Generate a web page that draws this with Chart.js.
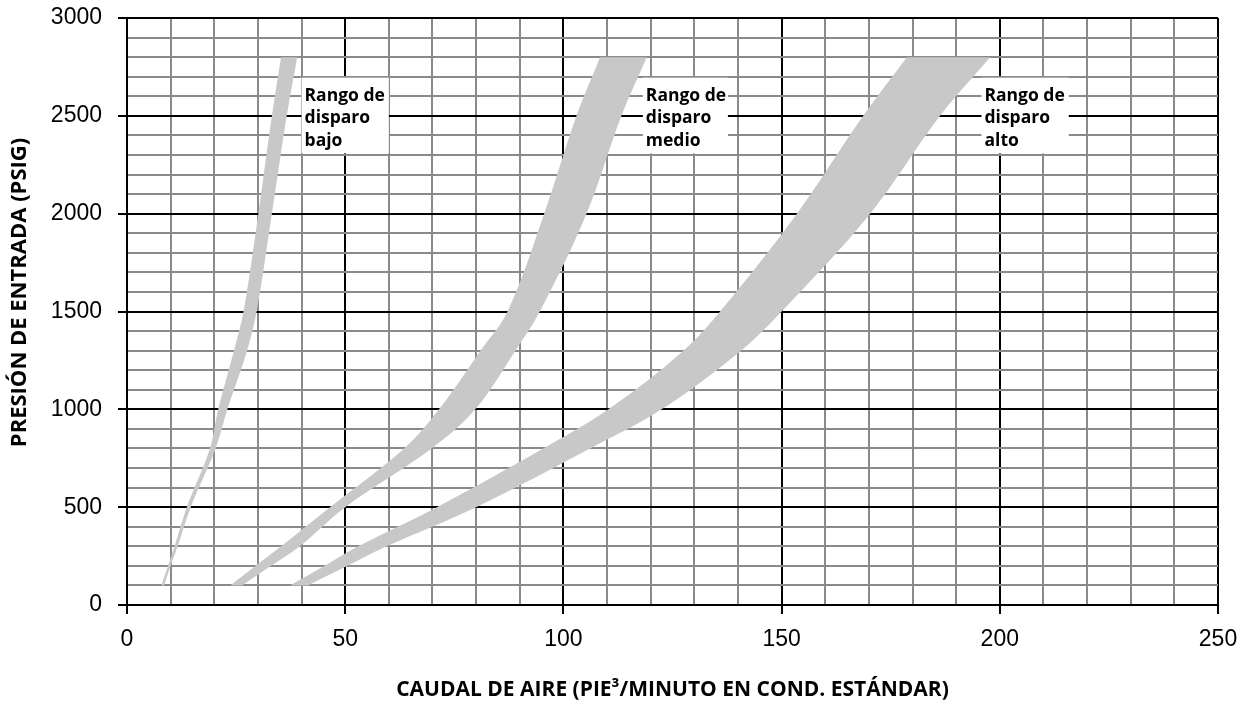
<!DOCTYPE html>
<html>
<head>
<meta charset="utf-8">
<script src="https://cdn.jsdelivr.net/npm/chart.js@4.4.0/dist/chart.umd.min.js"></script>
<style>
  html, body { margin: 0; padding: 0; background: #fff; }
</style>
</head>
<body>
<canvas id="graf" width="1256" height="707"></canvas>
<script>
  // presion de entrada (psig) de cada nivel
  const presion = [100, 200, 300, 500, 800, 1000, 1300, 1500, 2000, 2500, 2800];

  // caudal (pie3/min) en el borde izquierdo y derecho de cada rango
  const bajoIzq  = [7.9, 9.4, 10.9, 13.7, 19.0, 20.9, 24.5, 26.7, 30.1, 33.2, 35.3];
  const bajoDer  = [8.5, 10.0, 11.6, 14.6, 20.3, 23.0, 27.5, 29.7, 33.2, 36.6, 39.0];
  const medioIzq = [23.7, 29.5, 35.3, 46.5, 63.5, 71.5, 81.0, 87.2, 95.6, 103.0, 108.4];
  const medioDer = [26.4, 33.0, 39.6, 50.0, 69.8, 79.8, 89.0, 94.6, 105.3, 113.3, 119.1];
  const altoIzq  = [37.4, 45.3, 53.0, 71.0, 95.4, 110.3, 127.5, 135.9, 153.5, 168.7, 178.7];
  const altoDer  = [41.5, 50.5, 59.5, 80.0, 106.1, 122.5, 140.7, 150.0, 170.3, 186.3, 197.8];

  // etiquetas de los ejes
  const etiquetasX = [0, 50, 100, 150, 200, 250];
  const etiquetasY = [0, 500, 1000, 1500, 2000, 2500, 3000];
  const tituloX = 'CAUDAL DE AIRE (PIE\u00B3/MINUTO EN COND. EST\u00C1NDAR)';
  const tituloY = 'PRESI\u00D3N DE ENTRADA (PSIG)';

  const textosRango = [
    ['Rango de', 'disparo', 'bajo'],
    ['Rango de', 'disparo', 'medio'],
    ['Rango de', 'disparo', 'alto']
  ];

  /**======================================================================
   *   banda(izq, der) : contorno cerrado izquierda -> arriba -> derecha
   ======================================================================*/
  function banda(izq, der)
  {
      let pts = [];
      let n = presion.length;
      for (let i = 0; i < n; i++) pts.push({x: izq[i], y: presion[i]});
      // esquinas repetidas para que no se redondeen
      pts.push({x: izq[n-1], y: presion[n-1]});
      pts.push({x: der[n-1], y: presion[n-1]});
      for (let i = n - 1; i >= 0; i--) pts.push({x: der[i], y: presion[i]});
      pts.push({x: der[0], y: presion[0]});
      pts.push({x: izq[0], y: presion[0]});
      return pts;
  }

  function datasetBanda(izq, der)
  {
      return {
          data: banda(izq, der),
          fill: 'shape',
          backgroundColor: '#c8c8c8',
          borderColor: '#c8c8c8',
          borderWidth: 0,
          pointRadius: 0,
          tension: 0.35
      };
  }

  // cajas blancas con los textos (en unidades de la grafica)
  const cajas = [
      {x0: 40.0, x1: 60.0, texto: textosRango[0]},
      {x0: 118.2, x1: 137.7, texto: textosRango[1]},
      {x0: 195.8, x1: 215.8, texto: textosRango[2]}
  ];

  const pluginCajas = {
      id: 'cajas',
      afterDatasetsDraw(chart)
      {
          const ctx = chart.ctx;
          const sx = chart.scales.x;
          const sy = chart.scales.y;
          ctx.save();
          for (const c of cajas)
          {
              let l = sx.getPixelForValue(c.x0);
              let r = sx.getPixelForValue(c.x1);
              let t = sy.getPixelForValue(2695);
              let b = sy.getPixelForValue(2308);
              ctx.fillStyle = '#fff';
              ctx.fillRect(l, t, r - l, b - t);
              ctx.fillStyle = '#000';
              ctx.font = 'bold 17.5px "Open Sans"';
              ctx.textBaseline = 'middle';
              ctx.textAlign = 'left';
              for (let i = 0; i < c.texto.length; i++)
                  ctx.fillText(c.texto[i], l + 3, t + 18 + i * 22.5);
          }

          // titulo del eje Y, algo por encima del centro como en el original
          const area = chart.chartArea;
          ctx.translate(20, (area.top + area.bottom) / 2 - 19);
          ctx.rotate(-Math.PI / 2);
          ctx.font = 'bold 22px "Open Sans"';
          ctx.textAlign = 'center';
          ctx.fillText(tituloY, 0, 0);
          ctx.restore();
      }
  };

  function colorRejilla(ctx, paso)
  {
      return (Math.round(ctx.tick.value) % paso === 0) ? '#000' : '#8a8a8a';
  }

  new Chart(document.getElementById('graf'), {
      type: 'line',
      data: {
          datasets: [
              datasetBanda(bajoIzq, bajoDer),
              datasetBanda(medioIzq, medioDer),
              datasetBanda(altoIzq, altoDer)
          ]
      },
      options: {
          responsive: false,
          animation: false,
          layout: { padding: { top: 18, right: 38, left: 0, bottom: 0 } },
          plugins: { legend: { display: false }, tooltip: { enabled: false } },
          scales: {
              x: {
                  type: 'linear',
                  min: 0, max: 250,
                  afterFit: (s) => { s.height = 102; },
                  border: { color: '#000', width: 2 },
                  grid: {
                      color: (ctx) => colorRejilla(ctx, 50),
                      lineWidth: 2,
                      tickLength: 9,
                      tickColor: (ctx) => (Math.round(ctx.tick.value) % 50 === 0) ? '#000' : 'rgba(0,0,0,0)'
                  },
                  ticks: {
                      stepSize: 10,
                      maxTicksLimit: 100,
                      autoSkip: false,
                      maxRotation: 0,
                      padding: 12,
                      color: '#000',
                      font: { family: '"Liberation Sans", Arial', size: 23 },
                      callback: (v) => etiquetasX.includes(v) ? String(v) : ''
                  },
                  title: {
                      display: true,
                      text: tituloX,
                      color: '#000',
                      font: { family: '"Open Sans"', size: 21, weight: 'bold' },
                      padding: { top: 0, bottom: 4 }
                  }
              },
              y: {
                  min: 0, max: 3000,
                  afterFit: (s) => { s.width = 127; s.paddingTop = 0; s.paddingBottom = 0; },
                  border: { color: '#000', width: 2 },
                  grid: {
                      color: (ctx) => colorRejilla(ctx, 500),
                      lineWidth: 2,
                      tickLength: 9,
                      tickColor: (ctx) => (Math.round(ctx.tick.value) % 500 === 0) ? '#000' : 'rgba(0,0,0,0)'
                  },
                  ticks: {
                      stepSize: 100,
                      maxTicksLimit: 100,
                      autoSkip: false,
                      padding: 16,
                      color: '#000',
                      font: { family: '"Liberation Sans", Arial', size: 23 },
                      callback: (v) => etiquetasY.includes(v) ? String(v) : ''
                  },
                  title: { display: false }
              }
          }
      },
      plugins: [pluginCajas]
  });
</script>
</body>
</html>
